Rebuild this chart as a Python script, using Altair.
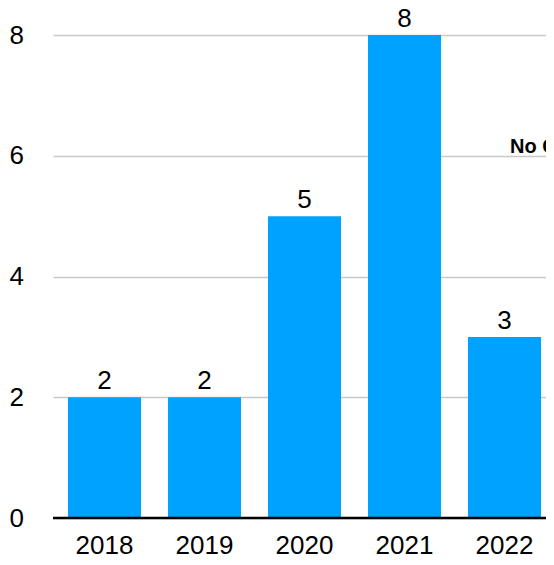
import altair as alt
import pandas as pd

years = ["2018", "2019", "2020", "2021", "2022"]
counts = [2, 2, 5, 8, 3]
y_ticks = [0, 2, 4, 6, 8]
note_text = "No Campaigns"

df = pd.DataFrame({"year": years, "count": counts})

FONT = "Liberation Sans"
BLUE = "#00A2FF"

x_enc = alt.X(
    "year:N",
    sort=years,
    title=None,
    scale=alt.Scale(paddingInner=0.27, paddingOuter=0.1, align=0.75),
    axis=alt.Axis(
        labelAngle=0,
        labelFont=FONT,
        labelFontSize=26,
        labelColor="#000000",
        labelPadding=14,
        ticks=False,
        tickSize=0,
        domain=False,
        grid=False,
    ),
)
y_enc = alt.Y(
    "count:Q",
    title=None,
    scale=alt.Scale(domain=[0, 8], nice=False, zero=True),
    axis=alt.Axis(
        values=y_ticks,
        format="d",
        labelFont=FONT,
        labelFontSize=26,
        labelColor="#000000",
        labelAlign="left",
        labelBaseline="middle",
        labelPadding=44,
        ticks=False,
        tickSize=0,
        domain=False,
        grid=True,
        gridColor="#c8c8c8",
        gridWidth=1.5,
    ),
)

bars = alt.Chart(df).mark_bar(color=BLUE, size=73).encode(x=x_enc, y=y_enc)

labels = alt.Chart(df).mark_text(
    font=FONT, fontSize=26, color="#000000", baseline="alphabetic", dy=-8
).encode(
    x=alt.X("year:N", sort=years),
    y=alt.Y("count:Q"),
    text=alt.Text("count:Q"),
)

baseline = alt.Chart(pd.DataFrame({"v": [0]})).mark_rule(
    color="#000000", strokeWidth=2.5
).encode(y=alt.Y("v:Q"))

note = alt.Chart(pd.DataFrame({"t": [note_text]})).mark_text(
    font=FONT, fontSize=20, fontWeight="bold", color="#000000",
    align="left", baseline="alphabetic"
).encode(
    x=alt.value(457),
    y=alt.value(118),
    text="t:N",
)

chart = (
    alt.layer(bars, labels, baseline, note)
    .properties(
        width=493,
        height=483,
        autosize=alt.AutoSizeParams(type="none"),
        padding={"left": 45, "top": 27, "right": 0, "bottom": 45},
        background="#ffffff",
    )
    .configure_view(stroke=None)
)

chart.save("out.html", embed_options={"renderer": "svg", "actions": False})
